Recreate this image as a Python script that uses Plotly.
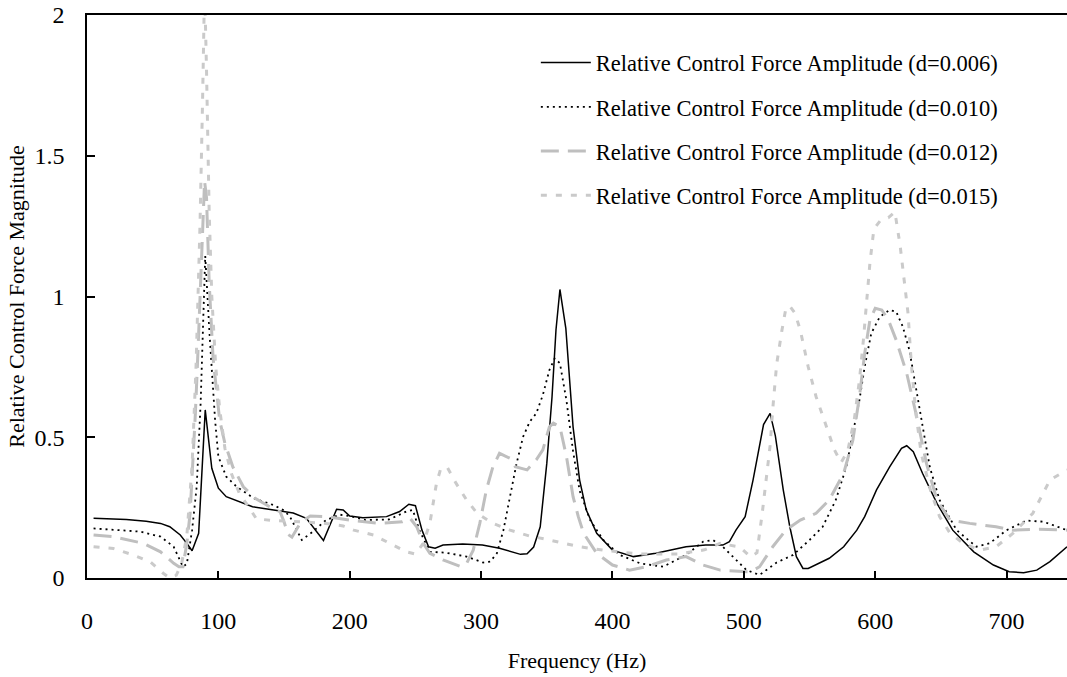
import plotly.graph_objects as go

# d = 0.006 (solid black)
freq_006 = [5, 30, 45, 56, 63, 71, 76, 80, 85, 90, 95, 100, 106, 126, 157, 167, 180, 190, 195, 200,
            210, 228, 238, 245, 250, 255, 260, 265, 271, 286, 301, 314, 330, 335, 340, 345, 350, 354, 357, 360,
            364.5, 370, 375, 380, 388, 400, 416, 433, 456, 471, 484, 489, 494, 501, 507, 515, 520, 524, 530, 535,
            540, 545, 549, 565, 576, 586, 592, 601, 611, 620, 624, 629, 636, 647, 659, 675, 690, 702, 713, 723,
            733, 746]
amp_006 = [0.212, 0.208, 0.202, 0.194, 0.182, 0.153, 0.123, 0.097, 0.159, 0.597, 0.39, 0.319, 0.289, 0.253, 0.231, 0.212, 0.133, 0.244, 0.242, 0.22,
           0.214, 0.218, 0.236, 0.262, 0.257, 0.17, 0.111, 0.106, 0.117, 0.121, 0.117, 0.106, 0.084, 0.086, 0.11, 0.182, 0.407, 0.644, 0.881, 1.025,
           0.887, 0.537, 0.348, 0.242, 0.159, 0.099, 0.076, 0.088, 0.111, 0.117, 0.117, 0.129, 0.17, 0.218, 0.348, 0.545, 0.585, 0.505, 0.313, 0.182,
           0.076, 0.034, 0.034, 0.07, 0.111, 0.17, 0.218, 0.313, 0.395, 0.461, 0.47, 0.449, 0.372, 0.265, 0.17, 0.093, 0.046, 0.022, 0.019, 0.028,
           0.058, 0.111]

# d = 0.010 (dotted black)
freq_010 = [5, 40, 56, 66, 73, 76, 80, 83.5, 86.5, 90, 93.5, 97.5, 100, 106, 114, 127, 142, 150, 154.5, 160,
            163.5, 172, 182, 192.5, 200, 212, 230, 243, 248, 253, 258, 261, 273, 289, 301.5, 307, 312, 317, 322, 327,
            332, 337, 342, 347, 352, 356, 360, 365, 370, 375, 383, 393, 405.5, 421, 438.5, 456, 469, 476.5, 484, 494,
            502, 512, 517, 525, 537.5, 550, 560, 570, 578, 583, 588, 592, 597, 603.5, 611, 616, 621, 626, 631, 636.5,
            641.5, 649, 662, 677, 687, 700, 715, 728, 741, 746]
amp_010 = [0.176, 0.165, 0.147, 0.111, 0.04, 0.05, 0.17, 0.324, 0.62, 1.144, 0.85, 0.561, 0.431, 0.36, 0.324, 0.283, 0.259, 0.24, 0.218, 0.165,
           0.135, 0.165, 0.206, 0.225, 0.22, 0.206, 0.208, 0.236, 0.242, 0.17, 0.123, 0.093, 0.09, 0.076, 0.055, 0.058, 0.088, 0.17, 0.289, 0.407,
           0.502, 0.555, 0.585, 0.65, 0.739, 0.78, 0.763, 0.63, 0.45, 0.31, 0.206, 0.135, 0.082, 0.052, 0.04, 0.082, 0.129, 0.135, 0.111, 0.064,
           0.028, 0.011, 0.028, 0.055, 0.082, 0.135, 0.182, 0.277, 0.395, 0.514, 0.632, 0.751, 0.869, 0.928, 0.952, 0.946, 0.893, 0.81, 0.68, 0.537,
           0.395, 0.277, 0.17, 0.111, 0.123, 0.17, 0.204, 0.2, 0.177, 0.17]

# d = 0.012 (long-dash grey)
freq_012 = [5, 20, 43, 56, 66, 70, 73, 76, 78.5, 80, 81, 82.5, 84, 86, 88, 89.5, 91, 93, 96, 99,
            101, 105, 111, 119, 128, 139, 147, 150, 153, 156, 159, 163, 170, 182, 200, 223, 240, 246, 251, 256,
            261, 271, 285, 289, 294, 299, 304, 309, 314, 322, 326, 335, 342, 347, 352, 355, 360, 365, 370, 374,
            378, 388, 400, 413, 426, 441, 456, 469, 482, 497, 505, 512, 522, 532, 543, 555, 565, 576, 583, 588,
            592, 596, 600, 605, 610, 616, 624, 631, 639, 647, 657, 672, 692, 705, 725, 746]
amp_012 = [0.153, 0.147, 0.123, 0.093, 0.052, 0.04, 0.04, 0.123, 0.23, 0.348, 0.466, 0.585, 0.75, 1.0, 1.25, 1.41, 1.35, 1.05, 0.78, 0.64,
           0.56, 0.478, 0.395, 0.324, 0.283, 0.253, 0.235, 0.2, 0.155, 0.145, 0.17, 0.2, 0.22, 0.218, 0.206, 0.194, 0.2, 0.212, 0.182, 0.123,
           0.088, 0.064, 0.04, 0.052, 0.099, 0.194, 0.313, 0.395, 0.443, 0.425, 0.395, 0.384, 0.42, 0.455, 0.537, 0.55, 0.537, 0.431, 0.289, 0.218,
           0.159, 0.088, 0.046, 0.028, 0.04, 0.064, 0.076, 0.046, 0.028, 0.025, 0.022, 0.04, 0.111, 0.17, 0.206, 0.23, 0.277, 0.372, 0.49, 0.644,
           0.798, 0.917, 0.958, 0.952, 0.917, 0.845, 0.727, 0.585, 0.407, 0.277, 0.206, 0.194, 0.182, 0.17, 0.173, 0.17]

# d = 0.015 (short-dash light grey)
freq_015 = [5, 20, 35, 48, 58, 63, 68, 72, 76, 80, 83, 86, 88, 89.5, 91, 93, 95, 98, 101, 105,
            110, 116, 122, 129, 140, 160, 180, 195, 203, 218, 231, 243, 250, 256, 261, 266, 269, 274, 281, 289,
            297, 309, 322, 337, 350, 362, 375, 393, 420, 450, 470, 482, 497, 505, 510, 514, 517, 520, 522, 525,
            529, 532, 535, 539, 543, 549, 555, 563, 569, 574, 579, 584, 588, 591, 593.5, 596, 599, 604, 610, 615,
            619, 622, 625, 627.5, 631, 635, 642, 649, 657, 667, 680, 692, 705, 720, 733, 746]
amp_015 = [0.111, 0.105, 0.082, 0.058, 0.017, 0.0, 0.01, 0.05, 0.15, 0.4, 0.75, 1.25, 1.7, 2.1, 1.8, 1.3, 1.0, 0.75, 0.6, 0.46,
           0.37, 0.3, 0.26, 0.21, 0.205, 0.2, 0.195, 0.185, 0.17, 0.153, 0.123, 0.093, 0.085, 0.123, 0.194, 0.336, 0.384, 0.395, 0.336, 0.277,
           0.23, 0.194, 0.17, 0.149, 0.137, 0.125, 0.111, 0.099, 0.085, 0.085, 0.1, 0.123, 0.11, 0.075, 0.09, 0.23, 0.35, 0.47, 0.6, 0.76,
           0.88, 0.958, 0.966, 0.94, 0.88, 0.75, 0.644, 0.537, 0.455, 0.41, 0.45, 0.56, 0.703, 0.845, 1.0, 1.12, 1.24, 1.27, 1.28, 1.3,
           1.18, 1.06, 0.94, 0.76, 0.585, 0.443, 0.313, 0.218, 0.159, 0.123, 0.099, 0.111, 0.159, 0.23, 0.348, 0.384]

series_names = ["Relative Control Force Amplitude (d=0.006)",
                "Relative Control Force Amplitude (d=0.010)",
                "Relative Control Force Amplitude (d=0.012)",
                "Relative Control Force Amplitude (d=0.015)"]
x_ticks = [0, 100, 200, 300, 400, 500, 600, 700]
y_ticks = [0, 0.5, 1, 1.5, 2]
y_tick_labels = ["0", "0.5", "1", "1.5", "2"]

FONT = "Liberation Serif, Times New Roman, serif"

styles = [
    dict(color="#000000", width=1.5, dash="solid"),
    dict(color="#000000", width=1.8, dash="2px,4px"),
    dict(color="#bfbfbf", width=3, dash="18px,9px"),
    dict(color="#cacaca", width=3, dash="6px,9px"),
]
data = [(freq_006, amp_006), (freq_010, amp_010), (freq_012, amp_012), (freq_015, amp_015)]

fig = go.Figure()
for i, ((fx, fy), st, nm) in enumerate(zip(data, styles, series_names)):
    fig.add_trace(go.Scatter(x=fx, y=fy, mode="lines", name=nm, line=st,
                             legendgroup=f"g{i}", showlegend=True))

fig.update_layout(
    width=1067, height=677,
    margin=dict(l=87, r=0, t=15, b=99),
    paper_bgcolor="white", plot_bgcolor="white",
    font=dict(family=FONT, size=22, color="black"),
    showlegend=True,
    legend=dict(x=0.458, y=0.953, xanchor="left", yanchor="top",
                bgcolor="rgba(0,0,0,0)", font=dict(family=FONT, size=22.5, color="black"),
                tracegroupgap=12, itemwidth=50, traceorder="grouped"),
    xaxis=dict(range=[0, 746], tickmode="array", tickvals=x_ticks,
               ticktext=[str(v) for v in x_ticks],
               showline=True, linecolor="black", linewidth=1.5, mirror=True,
               ticks="inside", ticklen=7, tickwidth=1.5, tickcolor="black",
               showgrid=False, zeroline=False,
               tickfont=dict(family=FONT, size=24), ticklabelstandoff=20,
               title=dict(text="Frequency (Hz)", font=dict(family=FONT, size=22), standoff=20)),
    yaxis=dict(range=[0, 2], tickmode="array", tickvals=y_ticks, ticktext=y_tick_labels,
               showline=True, linecolor="black", linewidth=1.5, mirror=False,
               ticks="inside", ticklen=8, tickwidth=1.5, tickcolor="black",
               showgrid=False, zeroline=False,
               tickfont=dict(family=FONT, size=24), ticklabelstandoff=16,
               title=dict(text="Relative Control Force Magnitude", font=dict(family=FONT, size=22), standoff=4)),
)

fig.write_html("out.html")
